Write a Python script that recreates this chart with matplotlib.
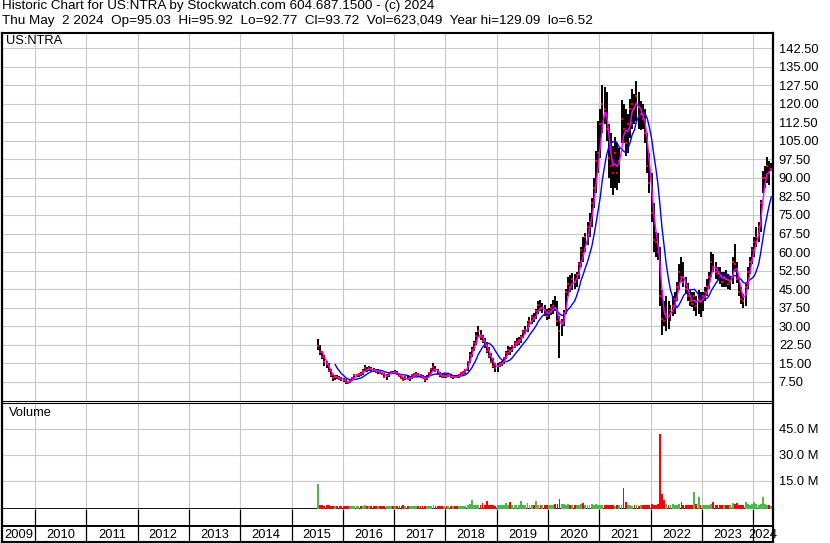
import numpy as np
import pandas as pd
import matplotlib
matplotlib.use("Agg")
import matplotlib.pyplot as plt

plt.rcParams['font.family'] = ['Liberation Sans', 'DejaVu Sans']

# half-month periods, from the July 2015 listing to May 2 2024
periods = pd.date_range("2015-07-01", "2024-05-01", freq="SMS")

# high / low / close per half month
hi_2015 = [24.8, 22.5, 20.0, 18.5, 16.0, 15.0, 12.5, 10.5, 10.0, 10.2, 9.8, 9.5]
lo_2015 = [20.5, 18.5, 16.5, 14.0, 13.0, 11.5, 9.5, 7.6, 8.0, 8.5, 8.0, 7.8]
cl_2015 = [22.0, 19.5, 17.5, 15.5, 14.5, 12.0, 10.0, 9.0, 9.5, 9.2, 8.6, 8.5]

hi_2016 = [9.0, 8.5, 7.8, 8.5, 9.5, 10.5, 10.8, 11.2, 11.5, 12.5, 14.2, 13.5,
           13.8, 13.5, 13.2, 12.8, 12.5, 12.2, 11.5, 11.0, 10.5, 11.5, 12.0, 12.0]
lo_2016 = [7.5, 6.6, 6.52, 6.8, 7.8, 8.8, 9.3, 9.5, 9.8, 10.2, 11.5, 11.5,
           11.8, 12.0, 11.5, 11.0, 10.5, 10.8, 10.0, 9.0, 8.2, 9.5, 10.5, 10.5]
cl_2016 = [8.0, 7.2, 7.0, 8.0, 9.0, 10.0, 10.2, 10.8, 10.5, 12.0, 13.0, 12.2,
           13.0, 12.5, 12.0, 11.5, 11.8, 11.0, 10.5, 9.5, 9.8, 11.0, 11.5, 11.0]

hi_2017 = [12.2, 12.0, 11.0, 10.5, 9.5, 9.8, 10.0, 9.5, 10.5, 11.2, 11.5, 11.0,
           10.8, 10.2, 9.5, 10.0, 11.5, 13.0, 15.0, 14.0, 12.5, 11.5, 10.8, 10.5]
lo_2017 = [10.8, 10.2, 9.5, 8.5, 7.8, 8.0, 8.0, 7.6, 8.5, 9.5, 9.8, 9.5,
           9.0, 8.5, 7.5, 8.0, 9.2, 10.5, 12.0, 11.5, 10.0, 9.5, 9.0, 8.8]
cl_2017 = [11.5, 10.6, 9.8, 9.0, 8.2, 9.2, 8.5, 8.8, 10.0, 10.5, 10.8, 10.0,
           9.5, 9.0, 8.0, 9.5, 11.0, 12.5, 13.5, 12.0, 10.5, 10.0, 9.5, 9.8]

hi_2018 = [10.5, 10.8, 10.5, 10.0, 10.2, 10.0, 10.5, 11.5, 12.0, 12.5, 16.0, 19.5,
           21.5, 24.0, 27.5, 29.9, 28.5, 26.5, 25.0, 23.5, 21.5, 19.0, 17.0, 15.0]
lo_2018 = [9.0, 9.2, 8.8, 8.7, 8.8, 8.8, 9.0, 9.8, 10.2, 10.8, 12.0, 15.0,
           17.5, 20.0, 22.5, 25.5, 24.5, 23.0, 21.0, 19.0, 17.0, 15.0, 13.0, 11.5]
cl_2018 = [9.6, 10.2, 9.2, 9.5, 9.4, 9.3, 10.2, 11.0, 11.5, 12.2, 15.5, 18.5,
           20.5, 23.0, 26.0, 28.0, 25.5, 24.0, 22.0, 20.0, 18.0, 15.5, 13.8, 13.0]

hi_2019 = [15.0, 15.5, 16.0, 17.5, 20.0, 21.8, 21.5, 22.5, 24.0, 25.0, 25.7, 26.5,
           28.5, 30.0, 32.0, 33.8, 34.5, 35.5, 37.0, 40.0, 40.6, 39.5, 38.5, 37.0]
lo_2019 = [11.5, 13.5, 14.0, 14.5, 16.5, 18.3, 18.5, 19.5, 21.0, 22.0, 22.5, 23.0,
           25.0, 27.0, 27.5, 29.5, 31.0, 31.5, 33.0, 35.0, 36.0, 35.5, 34.0, 32.5]
cl_2019 = [14.0, 14.8, 15.2, 17.0, 19.0, 20.5, 20.0, 21.8, 23.0, 23.5, 24.5, 25.5,
           27.5, 28.5, 31.0, 32.0, 33.5, 33.0, 36.0, 38.5, 37.0, 37.5, 35.0, 34.0]

hi_2020 = [37.5, 39.0, 40.5, 42.2, 40.0, 34.0, 33.0, 36.5, 45.0, 50.0, 50.5, 51.4,
           51.0, 52.0, 56.0, 62.0, 66.0, 67.6, 72.0, 75.7, 82.0, 90.0, 101.0, 113.0]
lo_2020 = [33.0, 34.5, 35.0, 36.0, 30.0, 17.0, 26.0, 30.0, 35.0, 42.0, 44.0, 44.6,
           45.0, 46.0, 49.0, 54.0, 56.0, 60.0, 63.0, 66.0, 70.0, 78.0, 84.0, 92.0]
cl_2020 = [36.0, 37.5, 38.0, 37.0, 32.0, 28.0, 31.5, 35.5, 44.0, 47.0, 46.0, 49.0,
           48.0, 50.5, 55.0, 61.0, 59.0, 66.0, 70.0, 72.0, 80.0, 86.0, 97.0, 100.0]

hi_2021 = [118.0, 127.6, 127.0, 125.0, 112.0, 108.0, 103.0, 106.7, 104.0, 102.0, 121.6, 120.0,
           118.0, 116.0, 122.0, 126.0, 124.0, 129.1, 125.0, 121.0, 120.0, 118.0, 108.0, 100.0]
lo_2021 = [98.0, 108.0, 112.0, 105.0, 90.0, 86.0, 83.0, 86.0, 85.0, 88.0, 104.0, 104.0,
           99.0, 100.0, 106.0, 110.0, 112.0, 113.0, 110.0, 109.4, 110.0, 104.0, 92.0, 84.0]
cl_2021 = [112.0, 120.0, 118.0, 110.0, 98.0, 95.0, 92.0, 100.0, 92.0, 97.0, 114.0, 110.0,
           104.0, 112.0, 118.0, 120.0, 118.0, 123.0, 115.0, 116.0, 114.0, 108.0, 95.0, 88.0]

hi_2022 = [92.0, 80.0, 68.0, 67.7, 62.0, 44.6, 40.0, 42.0, 40.0, 38.5, 42.0, 44.0,
           48.0, 55.0, 58.1, 56.0, 50.0, 47.3, 45.0, 44.0, 44.0, 42.0, 44.6, 44.0]
lo_2022 = [72.0, 60.0, 58.0, 56.8, 38.0, 26.4, 30.0, 28.0, 29.0, 32.0, 34.0, 35.0,
           40.0, 44.6, 48.0, 46.0, 43.0, 40.0, 38.0, 37.9, 36.0, 34.0, 35.0, 33.8]
cl_2022 = [76.0, 65.0, 64.0, 60.0, 42.0, 33.0, 32.0, 35.0, 34.0, 36.5, 38.0, 41.0,
           46.0, 52.0, 50.0, 48.0, 45.0, 42.0, 40.0, 39.0, 42.0, 38.0, 41.0, 40.0]

hi_2023 = [44.0, 46.0, 49.0, 52.0, 60.0, 59.0, 56.0, 54.0, 54.0, 52.0, 52.0, 52.7,
           51.0, 50.0, 58.0, 63.1, 56.0, 50.0, 46.0, 43.0, 47.0, 54.0, 58.0, 62.0]
lo_2023 = [36.0, 40.0, 42.0, 45.0, 50.0, 52.0, 49.0, 48.7, 47.0, 46.0, 46.0, 46.0,
           45.0, 44.6, 47.0, 52.0, 47.3, 42.0, 39.0, 37.2, 38.0, 45.0, 51.0, 55.0]
cl_2023 = [42.0, 44.0, 46.0, 50.0, 56.0, 54.0, 52.0, 51.0, 50.0, 48.0, 50.0, 49.0,
           47.0, 48.0, 56.0, 55.0, 49.0, 44.0, 41.0, 40.0, 46.0, 52.0, 56.0, 61.0]

hi_2024 = [66.0, 70.0, 72.0, 81.0, 93.0, 95.0, 98.6, 97.0, 95.92]
lo_2024 = [58.0, 62.0, 64.0, 68.0, 84.0, 86.0, 88.0, 87.0, 92.77]
cl_2024 = [64.0, 66.0, 70.0, 80.0, 90.0, 90.0, 95.0, 92.0, 93.72]

# typical daily volume (millions) seen in each half month
vol_2015 = [13.1, 1.0, 0.8, 0.6, 0.7, 1.2, 0.6, 0.5, 0.4, 0.5, 0.6, 0.4]
vol_2016 = [0.5, 0.6, 0.5, 0.4, 0.5, 0.3, 0.4, 0.3, 0.4, 0.6, 1.2, 0.5,
            0.4, 0.3, 0.4, 0.6, 0.3, 0.4, 0.3, 0.5, 0.6, 0.4, 0.3, 0.4]
vol_2017 = [0.4, 0.3, 0.5, 0.6, 1.2, 0.4, 0.3, 0.5, 0.4, 0.3, 0.4, 0.5,
            0.3, 0.4, 0.6, 0.4, 0.5, 0.6, 0.8, 0.5, 0.4, 0.3, 0.3, 0.4]
vol_2018 = [0.3, 0.4, 0.3, 0.3, 0.4, 0.3, 0.5, 0.4, 0.6, 0.5, 0.8, 1.6,
            3.9, 1.0, 0.8, 1.2, 0.9, 2.3, 1.0, 3.3, 1.2, 0.9, 1.0, 0.6]
vol_2019 = [0.8, 0.7, 0.9, 1.0, 2.3, 1.0, 2.7, 0.9, 1.0, 1.2, 0.9, 3.3,
            1.0, 1.1, 2.0, 1.0, 0.9, 1.2, 3.0, 1.1, 1.0, 0.9, 0.8, 1.2]
vol_2020 = [1.0, 0.9, 1.2, 1.3, 1.5, 4.4, 1.6, 1.4, 1.2, 1.3, 1.0, 1.1,
            1.0, 1.2, 1.0, 1.3, 2.3, 1.1, 1.2, 1.0, 1.4, 1.2, 1.5, 1.0]
vol_2021 = [0.8, 1.0, 0.7, 0.8, 0.9, 0.7, 0.8, 0.6, 0.7, 0.8, 0.9, 10.8,
            2.9, 0.8, 0.7, 0.6, 0.8, 0.7, 0.6, 0.8, 0.7, 0.9, 1.0, 1.2]
vol_2022 = [1.6, 1.2, 1.0, 1.4, 42.0, 7.3, 3.9, 1.5, 1.2, 1.0, 1.3, 1.1,
            1.2, 1.4, 2.7, 1.2, 1.0, 1.1, 1.2, 0.9, 8.5, 1.3, 5.6, 1.2]
vol_2023 = [1.0, 0.9, 1.1, 1.2, 1.4, 2.7, 1.2, 1.0, 1.1, 0.9, 1.0, 1.2,
            0.9, 1.0, 2.1, 1.3, 1.9, 1.2, 1.0, 1.1, 2.7, 1.3, 1.2, 1.4]
vol_2024 = [2.7, 1.3, 1.2, 1.8, 5.4, 1.4, 1.2, 1.0, 0.6]

highs = np.array(hi_2015 + hi_2016 + hi_2017 + hi_2018 + hi_2019 + hi_2020
                 + hi_2021 + hi_2022 + hi_2023 + hi_2024)
lows = np.array(lo_2015 + lo_2016 + lo_2017 + lo_2018 + lo_2019 + lo_2020
                + lo_2021 + lo_2022 + lo_2023 + lo_2024)
closes = np.array(cl_2015 + cl_2016 + cl_2017 + cl_2018 + cl_2019 + cl_2020
                  + cl_2021 + cl_2022 + cl_2023 + cl_2024)
volume = np.array(vol_2015 + vol_2016 + vol_2017 + vol_2018 + vol_2019 + vol_2020
                  + vol_2021 + vol_2022 + vol_2023 + vol_2024)

price_ticks = np.arange(7.5, 143, 7.5)
vol_ticks = [15, 30, 45]
years = list(range(2009, 2025))

header1 = "Historic Chart for US:NTRA by Stockwatch.com 604.687.1500 - (c) 2024"
header2 = ("Thu May  2 2024  Op=95.03  Hi=95.92  Lo=92.77  Cl=93.72  "
           "Vol=623,049  Year hi=129.09  lo=6.52")

# decimal year at the middle of each half month
mid = periods + pd.Timedelta(days=7)
t = np.asarray(mid.year + (mid.dayofyear - 1) / 365.25)

ma_fast = pd.Series(closes).rolling(3).mean()
ma_slow = pd.Series(closes).rolling(9).mean()
up = closes >= np.r_[closes[0], closes[:-1]]

W, H = 830, 543
X0, X1 = 2009.357, 2024.39
GRID = '#c8c8c8'
FS = 9.3      # tick / label text
HFS = 9.7     # header text


def box(x0, y0, x1, y1):
    # pixel box (from top-left) -> figure fraction rect
    return [x0 / W, 1 - y1 / H, (x1 - x0) / W, (y1 - y0) / H]


fig = plt.figure(figsize=(W / 100, H / 100), dpi=100, facecolor='white')

# --- price panel
ax = fig.add_axes(box(2, 33, 773.3, 400.8))
ax.set_xlim(X0, X1)
ax.set_ylim(-0.25, 148.7)
ax.vlines(t, lows, highs, colors='black', lw=1.4, zorder=3)
ax.plot(t, closes, 's', color='red', ms=1.7, mew=0, zorder=4)
ax.plot(t, ma_slow, color='#0000ff', lw=1.0, zorder=5)
ax.plot(t, ma_fast, color='#ff00ff', lw=1.0, zorder=6)
ax.set_yticks(price_ticks)
ax.set_yticklabels([f"{v:.2f}" for v in price_ticks])
ax.set_xticks(years[1:])
ax.yaxis.tick_right()
ax.tick_params(axis='y', length=0, pad=4, labelsize=FS)
ax.tick_params(axis='x', length=0, labelbottom=False)
ax.grid(True, color=GRID, lw=0.8, zorder=0)
ax.set_axisbelow(True)
ax.spines['left'].set_linewidth(1.6)
ax.spines['right'].set_linewidth(1.6)
ax.spines['top'].set_linewidth(1.5)
ax.spines['bottom'].set_linewidth(0.8)
fig.text(6 / W, 1 - 35 / H, "US:NTRA", fontsize=FS, va='top', ha='left')

# --- volume panel
base = -1.5
ax2 = fig.add_axes(box(2, 402.8, 773.3, 509.3))
ax2.set_xlim(X0, X1)
ax2.set_ylim(base, 59.94)
ax2.bar(t, volume - base, bottom=base, width=0.036,
        color=np.where(up, '#4cb84c', '#ff0000'), linewidth=0, zorder=3)
ax2.set_yticks(vol_ticks)
ax2.set_yticklabels([f"{v:.1f} M" for v in vol_ticks])
ax2.set_xticks(years[1:])
ax2.yaxis.tick_right()
ax2.tick_params(axis='y', length=0, pad=4, labelsize=FS)
ax2.tick_params(axis='x', length=0, labelbottom=False)
ax2.grid(True, color=GRID, lw=0.8, zorder=0)
ax2.set_axisbelow(True)
ax2.spines['left'].set_linewidth(1.6)
ax2.spines['right'].set_linewidth(1.6)
ax2.spines['top'].set_linewidth(0.8)
ax2.spines['bottom'].set_linewidth(1.3)
fig.text(9 / W, 1 - 407 / H, "Volume", fontsize=FS, va='top', ha='left')

# --- year strip
ax3 = fig.add_axes(box(2, 509.3, 773.3, 541.7))
ax3.set_xlim(X0, X1)
ax3.set_ylim(0, 1)
ax3.set_xticks([])
ax3.set_yticks([])
ax3.vlines(years[1:], 0, 1, colors='black', lw=0.9)
ax3.axhline(0.485, color='black', lw=1.4)
for y in years:
    a, b = max(y, X0), min(y + 1, X1)
    ax3.text((a + b) / 2, 0.22, str(y), ha='center', va='center',
             fontsize=FS, clip_on=False, zorder=5)
ax3.spines['top'].set_visible(False)
ax3.spines['left'].set_linewidth(1.6)
ax3.spines['right'].set_linewidth(1.6)
ax3.spines['bottom'].set_linewidth(1.5)

fig.text(2 / W, 1 - 0.5 / H, header1, fontsize=HFS, va='top', ha='left')
fig.text(2 / W, 1 - 15 / H, header2, fontsize=HFS, va='top', ha='left')

fig.savefig("out.png", dpi=100, facecolor='white')
